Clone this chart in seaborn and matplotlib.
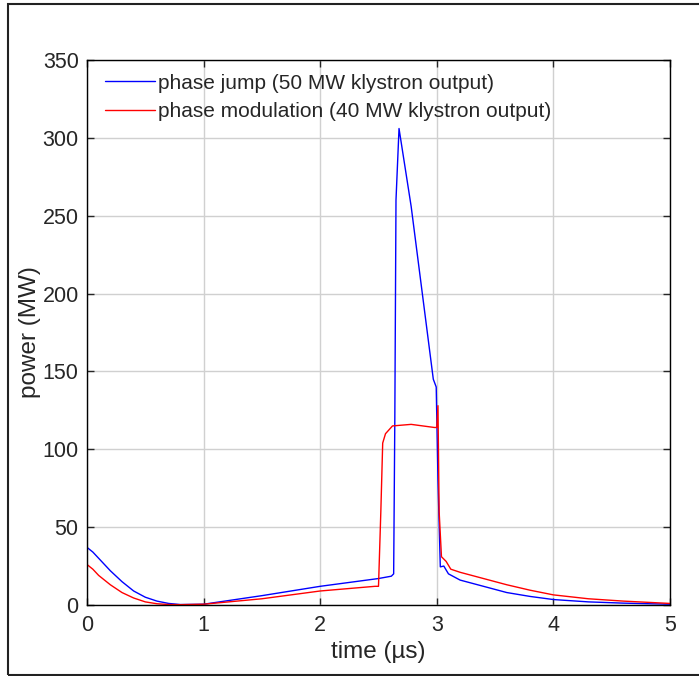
import numpy as np
import pandas as pd
import matplotlib
matplotlib.use('Agg')
import matplotlib.pyplot as plt
import seaborn as sns
from matplotlib.patches import Rectangle

# phase jump (50 MW klystron output)
jump_time = [0, 0.05, 0.1, 0.2, 0.3, 0.4, 0.5, 0.6, 0.7, 0.8, 1.0, 1.5, 2.0, 2.5,
             2.61, 2.63, 2.64, 2.65, 2.676, 2.78, 2.97, 2.995, 3.01, 3.03, 3.06,
             3.1, 3.2, 3.4, 3.6, 3.8, 4.0, 4.3, 4.6, 5.0]
jump_power = [37, 34, 30, 22, 15, 9, 5, 2.5, 1, 0.3, 0.5, 6, 12, 17,
              18.5, 20, 120, 260, 306, 256, 145, 140, 80, 24.5, 25,
              20, 16, 12, 8, 5.5, 3.5, 2, 1.2, 0.5]

# phase modulation (40 MW klystron output)
mod_time = [0, 0.05, 0.1, 0.2, 0.3, 0.4, 0.5, 0.6, 0.7, 0.8, 1.0, 1.5, 2.0, 2.47,
            2.5, 2.52, 2.536, 2.56, 2.62, 2.78, 2.98, 3.0, 3.01, 3.02, 3.04,
            3.08, 3.12, 3.2, 3.4, 3.6, 3.8, 4.0, 4.3, 4.6, 5.0]
mod_power = [26, 23, 19, 13, 8, 4.5, 2, 0.8, 0.3, 0.2, 0.5, 4, 9, 12,
             12, 60, 104, 110, 115, 116, 114, 114, 128, 60, 31,
             28, 23, 21, 17, 13, 9.5, 6.5, 4, 2.5, 1]

labels = ['phase jump (50 MW klystron output)',
          'phase modulation (40 MW klystron output)']

sns.set_style('white')
plt.rcParams['font.family'] = ['Liberation Sans', 'DejaVu Sans']

df = pd.concat([
    pd.DataFrame({'time': jump_time, 'power': jump_power, 'series': labels[0]}),
    pd.DataFrame({'time': mod_time, 'power': mod_power, 'series': labels[1]}),
])

fig = plt.figure(figsize=(6.99, 6.76), dpi=100)
ax = fig.add_axes([87 / 699, 71 / 676, 583 / 699, 545 / 676])

sns.lineplot(data=df, x='time', y='power', hue='series', sort=False,
             palette=['#0000ff', '#ff0000'], linewidth=1.0, ax=ax)

ax.set_xlim(0, 5)
ax.set_ylim(0, 350)
ax.set_xticks(range(0, 6))
ax.set_yticks(range(0, 351, 50))
ax.grid(True, color='#d0d0d0', linewidth=1.0)
ax.set_axisbelow(True)
for s in ax.spines.values():
    s.set_color('black')
    s.set_linewidth(1.0)
ax.tick_params(direction='in', length=5, width=1, labelsize=15.5,
               top=True, right=True, bottom=True, left=True)
ax.tick_params(axis='x', pad=7)
ax.tick_params(axis='y', pad=6)
ax.set_xlabel('time (µs)', fontsize=17.5, labelpad=4)
ax.set_ylabel('power (MW)', fontsize=17.5, labelpad=1)

leg = ax.legend(loc='upper left', bbox_to_anchor=(0.011, 0.996),
                frameon=False, fontsize=15,
                handlelength=2.4, handletextpad=0.15, borderaxespad=0.3,
                borderpad=0.25, labelspacing=0.45)
for line in leg.get_lines():
    line.set_linewidth(1.0)

fig.patches.append(Rectangle((8 / 699, 1 / 676), 700 / 699, 671 / 676,
                             transform=fig.transFigure, fill=False,
                             edgecolor='#222222', linewidth=1.5))

fig.savefig('out.png', dpi=100)
